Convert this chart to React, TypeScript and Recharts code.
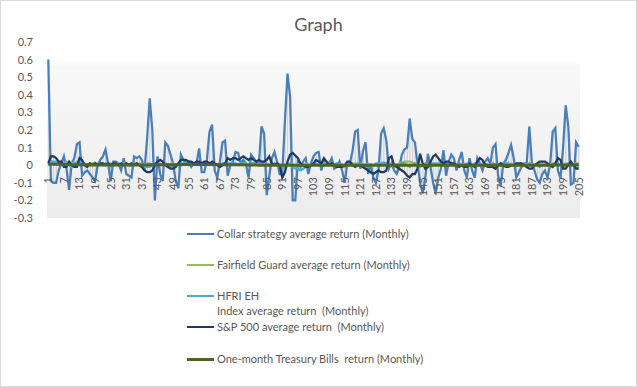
import {
  ComposedChart,
  Line,
  Bar,
  XAxis,
  YAxis,
  CartesianGrid,
  ReferenceLine,
} from "recharts"

// monthly returns (index 0 = month 1)
const collar = [
  0.60, -0.09, -0.10, -0.10, -0.03, 0.01, 0.05, -0.02, -0.14, 0.01,
  0.04, 0.12, 0.13, -0.06, -0.04, -0.03, -0.05, -0.07, -0.09, 0.00,
  0.03, 0.05, 0.09, 0.01, -0.09, 0.02, 0.02, 0.01, -0.03, 0.04,
  -0.05, -0.06, -0.07, 0.05, 0.04, 0.05, 0.03, -0.03, 0.15, 0.38,
  0.20, -0.20, 0.05, -0.05, -0.09, 0.13, 0.11, 0.06, 0.01, -0.09,
  -0.13, 0.06, 0.03, 0.01, 0.02, -0.01, 0.01, 0.01, 0.095, -0.04,
  -0.04, 0.03, 0.19, 0.23, -0.03, -0.07, 0.02, 0.13, 0.14, -0.06,
  0.00, 0.02, 0.075, 0.07, 0.01, 0.03, 0.01, -0.07, 0.06, 0.04,
  0.02, 0.01, 0.22, 0.18, -0.17, -0.06, 0.04, 0.075, 0.02, -0.05,
  -0.05, 0.25, 0.52, 0.39, -0.20, -0.20, 0.03, -0.01, 0.02, 0.04,
  -0.05, 0.01, 0.05, 0.07, 0.075, -0.03, 0.03, 0.02, 0.01, 0.04,
  -0.02, -0.01, 0.02, -0.03, -0.10, 0.01, 0.01, 0.08, 0.19, 0.20,
  -0.02, 0.08, 0.13, -0.05, 0.01, -0.07, -0.10, -0.03, 0.18, 0.21,
  0.14, -0.02, 0.01, -0.03, -0.05, -0.01, 0.06, 0.09, 0.10, 0.265,
  0.15, 0.13, 0.01, -0.10, -0.16, -0.07, 0.065, -0.01, -0.10, -0.16,
  -0.07, -0.02, 0.085, -0.06, 0.02, 0.06, 0.04, -0.03, 0.03, 0.075,
  -0.03, -0.07, 0.04, -0.03, -0.07, 0.04, 0.01, -0.03, 0.02, 0.04,
  0.01, 0.10, 0.12, -0.06, -0.12, 0.01, 0.03, 0.07, 0.115, 0.04,
  -0.07, -0.04, -0.01, 0.01, 0.01, 0.22, 0.01, -0.03, -0.08, -0.10,
  -0.05, -0.03, -0.07, 0.00, 0.19, 0.21, -0.03, -0.075, 0.10, 0.34,
  0.22, -0.11, -0.10, 0.13, 0.105,
]

const fairfield = [
  0.02, 0.02, 0.015, 0.01, 0.02, 0.015, 0.01, 0.02, 0.01, 0.015,
  0.01, 0.02, 0.015, 0.01, 0.01, 0.005, 0.01, 0.01, 0.015, 0.005,
  0.01, 0.01, 0.005, 0.01, 0.01, 0.005, 0.01, 0.01, 0.005, 0.01,
  0.01, 0.005, 0.01, 0.01, 0.005, 0.01, 0.005, 0.005, 0.01, 0.01,
  0.005, 0.005, 0.01, 0.005, 0.005, 0.01, 0.005, 0.005, 0.01, 0.005,
  0.005, 0.01, 0.01, 0.005, 0.005, 0.01, 0.005, 0.005, 0.01, 0.005,
  0.01, 0.005, 0.005, 0.01, 0.005, 0.005, 0.01, 0.005, 0.005, 0.005,
  0.005, 0.01, 0.005, 0.005, 0.005, 0.01, 0.005, 0.005, 0.005, 0.01,
  0.005, 0.005, 0.005, 0.01, 0.005, 0.005, 0.005, 0.01, 0.005, 0.005,
  0.0, 0.005, 0.005, 0.01, 0.005, 0.0, 0.005, 0.005, 0.005, 0.005,
  0.005, 0.005, 0.01, 0.005, 0.005, 0.005, 0.01, 0.005, 0.005, 0.005,
  0.005, 0.005, 0.005, 0.005, 0.0, 0.005, 0.005, 0.005, 0.01, 0.005,
  0.005, 0.005, 0.005, 0.005, 0.005, 0.0, 0.005, 0.005, 0.005, 0.01,
  0.005, 0.005, 0.005, 0.005, 0.005, 0.01, 0.015, 0.02, 0.02, 0.02,
  0.015, 0.01, 0.005, 0.0, 0.005, 0.005, 0.005, 0.005, 0.0, 0.005,
  0.005, 0.005, 0.005, 0.005, 0.005, 0.005, 0.01, 0.005, 0.005, 0.005,
  0.005, 0.0, 0.005, 0.005, 0.005, 0.005, 0.005, 0.005, 0.005, 0.005,
  0.005, 0.005, 0.005, 0.0, 0.005, 0.005, 0.005, 0.005, 0.01, 0.005,
  0.005, 0.005, 0.005, 0.005, 0.005, 0.01, 0.005, 0.005, 0.005, 0.005,
  0.005, 0.005, 0.005, 0.005, 0.01, 0.005, 0.005, 0.005, 0.005, 0.01,
  0.005, 0.005, 0.005, 0.01, 0.01,
]

const hfri = [
  0.00, 0.02, 0.02, 0.02, 0.01, 0.00, 0.01, 0.01, 0.00, -0.01,
  0.01, 0.01, 0.02, 0.01, 0.00, 0.00, 0.01, 0.00, 0.00, 0.01,
  0.01, 0.00, 0.01, 0.00, -0.01, 0.01, 0.00, 0.01, 0.00, 0.00,
  0.01, 0.00, 0.00, 0.01, 0.01, 0.00, 0.00, -0.01, -0.01, -0.01,
  0.00, 0.01, 0.01, 0.00, 0.00, 0.01, 0.00, -0.01, 0.00, 0.00,
  0.01, 0.01, 0.01, 0.01, 0.00, 0.01, 0.01, 0.00, 0.01, 0.00,
  0.01, 0.01, 0.01, 0.00, 0.00, 0.00, 0.00, 0.01, 0.01, 0.01,
  0.01, 0.01, 0.01, 0.00, 0.01, 0.01, 0.01, 0.00, 0.01, 0.01,
  0.01, 0.01, 0.01, 0.01, 0.01, 0.00, 0.00, 0.01, 0.00, -0.01,
  -0.02, -0.01, 0.00, 0.01, -0.01, -0.02, -0.02, -0.03, -0.02, -0.01,
  -0.01, 0.00, 0.01, 0.01, 0.00, 0.01, 0.01, 0.00, 0.01, 0.00,
  0.00, 0.01, 0.00, 0.00, -0.01, 0.00, 0.01, 0.01, 0.00, 0.01,
  0.01, 0.00, 0.00, -0.01, 0.00, 0.00, 0.01, 0.01, 0.01, 0.015,
  0.01, 0.01, 0.00, -0.01, 0.00, 0.00, 0.01, 0.01, 0.00, -0.01,
  0.00, 0.01, 0.00, -0.01, 0.00, 0.01, 0.00, 0.01, 0.01, 0.01,
  0.01, 0.01, 0.015, 0.01, 0.015, 0.01, 0.01, 0.00, 0.01, 0.00,
  0.00, 0.01, 0.00, 0.00, 0.01, 0.01, 0.00, 0.00, 0.01, 0.00,
  0.00, 0.01, 0.00, 0.00, 0.01, 0.01, 0.01, 0.01, 0.00, 0.00,
  0.00, 0.00, 0.01, 0.00, 0.00, 0.01, 0.00, 0.00, 0.00, -0.01,
  0.00, 0.00, 0.00, -0.01, 0.00, 0.01, 0.01, 0.00, -0.01, 0.00,
  0.01, 0.00, 0.00, -0.01, -0.01,
]

const sp500 = [
  0.01, 0.05, 0.05, 0.04, 0.02, 0.02, -0.01, -0.01, 0.02, 0.00,
  -0.01, -0.01, 0.04, 0.03, 0.00, -0.01, 0.01, 0.00, 0.01, 0.00,
  0.01, 0.01, 0.00, 0.01, 0.00, 0.01, 0.01, 0.00, 0.01, 0.00,
  0.01, 0.00, 0.01, 0.00, 0.01, 0.00, -0.01, -0.03, -0.04, -0.04,
  -0.03, 0.00, 0.02, 0.03, 0.02, 0.00, -0.01, -0.02, -0.02, -0.01,
  0.01, 0.03, 0.03, 0.03, 0.02, 0.02, 0.01, 0.02, 0.02, 0.01,
  0.02, 0.02, 0.01, 0.02, 0.01, 0.00, -0.01, 0.00, 0.01, 0.04,
  0.03, 0.04, 0.04, 0.03, 0.04, 0.05, 0.04, 0.03, 0.04, 0.03,
  0.02, 0.03, 0.02, 0.02, 0.03, 0.05, 0.01, 0.00, 0.01, 0.00,
  -0.07, -0.04, 0.02, 0.06, 0.07, 0.055, 0.04, 0.01, 0.00, -0.01,
  -0.01, 0.00, 0.01, 0.03, 0.02, 0.01, 0.04, 0.02, 0.00, 0.01,
  0.00, -0.01, -0.01, -0.01, 0.00, 0.02, 0.02, 0.00, -0.01, 0.00,
  0.00, -0.01, -0.02, -0.03, -0.04, -0.05, -0.04, -0.03, -0.04, -0.04,
  -0.03, 0.04, 0.05, 0.00, -0.01, -0.02, -0.03, -0.04, -0.06, -0.07,
  -0.05, -0.05, -0.02, 0.065, 0.01, -0.02, -0.01, 0.02, 0.05, 0.06,
  0.04, 0.02, 0.01, 0.02, 0.02, 0.01, 0.01, 0.00, -0.01, 0.00,
  -0.01, -0.01, 0.01, 0.00, -0.01, 0.02, 0.04, 0.03, 0.00, -0.01,
  -0.01, -0.01, -0.02, 0.00, 0.01, 0.00, -0.01, -0.01, 0.00, 0.00,
  0.01, 0.01, 0.01, 0.00, -0.01, -0.02, -0.02, 0.00, 0.01, 0.02,
  0.02, 0.02, 0.01, 0.00, -0.01, 0.01, 0.04, 0.03, -0.02, -0.02,
  0.00, 0.02, 0.00, -0.02, -0.02,
]

const tbills = [
  0.005, 0.005, 0.005, 0.005, 0.005, 0.005, 0.004, 0.004, 0.004, 0.003,
  0.003, 0.003, 0.002, 0.002, 0.002, 0.002, 0.001, 0.001, 0.001, 0.001,
  0.001, 0.001, 0.001, 0.001, 0.001, 0.001, 0.001, 0.001, 0.001, 0.001,
  0.001, 0.001, 0.001, 0.001, 0.001, 0.001, 0.001, 0.001, 0.001, 0.002,
  0.002, 0.002, 0.002, 0.002, 0.002, 0.003, 0.003, 0.003, 0.003, 0.003,
  0.003, 0.003, 0.004, 0.004, 0.004, 0.004, 0.004, 0.004, 0.004, 0.004,
  0.004, 0.004, 0.004, 0.004, 0.004, 0.004, 0.004, 0.003, 0.003, 0.003,
  0.003, 0.003, 0.002, 0.002, 0.002, 0.002, 0.001, 0.001, 0.001, 0.001,
  0.001, 0, 0, 0, 0, 0, 0, 0, 0, 0,
  0, 0, 0, 0, 0, 0, 0, 0, 0, 0,
  0, 0, 0, 0, 0, 0, 0, 0, 0, 0,
  0, 0, 0, 0, 0, 0, 0, 0, 0, 0,
  0, 0, 0, 0, 0, 0, 0, 0, 0, 0,
  0, 0, 0, 0, 0, 0, 0, 0, 0, 0,
  0, 0, 0, 0, 0, 0, 0, 0, 0, 0,
  0, 0, 0, 0, 0, 0, 0, 0, 0, 0,
  0, 0, 0, 0, 0, 0, 0, 0, 0, 0,
  0, 0, 0, 0, 0, 0, 0, 0, 0, 0,
  0, 0, 0, 0, 0, 0, 0, 0, 0, 0,
  0, 0, 0, 0, 0.001, 0.001, 0.001, 0.001, 0.001, 0.001,
  0.001, 0.001, 0.001, 0.002, 0.002,
]

const yTicks = [-0.3, -0.2, -0.1, 0, 0.1, 0.2, 0.3, 0.4, 0.5, 0.6, 0.7]

const SERIES = [
  { key: "collar", name: "Collar strategy average return (Monthly)", color: "#4A7EBB", width: 2.25 },
  { key: "fairfield", name: "Fairfield Guard average return (Monthly)", color: "#9BBB59", width: 2.25 },
  { key: "hfri", name: "HFRI EH\nIndex average return  (Monthly)", color: "#4BACC6", width: 2.25 },
  { key: "sp500", name: "S&P 500 average return  (Monthly)", color: "#203864", width: 2.25 },
  { key: "tbills", name: "One-month Treasury Bills  return (Monthly)", color: "#4F6228", width: 3 },
]

const W = 637
const H = 387
const PLOT_TOP = 42
const PLOT_H = 176
const FONT = "Lato, 'Open Sans', sans-serif"
const TEXT = "#595959"

// rows for the chart; lo/hi feed the grey high-low lines
const rows = collar.map((c, i) => {
  const vals = [c, fairfield[i], hfri[i], sp500[i], tbills[i]]
  return {
    month: String(i + 1),
    collar: c,
    fairfield: fairfield[i],
    hfri: hfri[i],
    sp500: sp500[i],
    tbills: tbills[i],
    lo: Math.min(...vals),
    hi: Math.max(...vals),
  }
})

// Excel puts the category labels at the zero line, not at the bottom
const ZERO_SHIFT = PLOT_H * 0.3 - 12

function MonthTick({ x, y, payload }: any) {
  const ty = y - ZERO_SHIFT
  return (
    <text
      x={x}
      y={ty}
      transform={`rotate(-90 ${x} ${ty})`}
      textAnchor="end"
      dy="0.35em"
      fill={TEXT}
      fontSize={11}
      fontFamily={FONT}
    >
      {payload.value}
    </text>
  )
}

function LegendBox() {
  return (
    <div style={{ position: "absolute", left: 187, top: 225.5, fontFamily: FONT, fontSize: 11, color: TEXT }}>
      {SERIES.map(s => (
        <div key={s.key} style={{ display: "flex", alignItems: "flex-start", height: 31.3 }}>
          <div style={{ width: 27, height: s.width > 2.5 ? 3 : 2, marginTop: 7, background: s.color }} />
          <div style={{ marginLeft: 3, lineHeight: "15px", whiteSpace: "pre" }}>{s.name}</div>
        </div>
      ))}
    </div>
  )
}

export default function App() {
  return (
    <div style={{ position: "absolute", left: 0, top: 0, width: W, height: H, background: "#fff" }}>
      <div
        style={{
          position: "absolute",
          left: 0,
          top: 13,
          width: W,
          textAlign: "center",
          fontFamily: FONT,
          fontSize: 18,
          color: TEXT,
        }}
      >
        Graph
      </div>

      <div style={{ position: "absolute", left: 0, top: 0 }}>
        <ComposedChart
          width={W}
          height={H}
          data={rows}
          margin={{ top: PLOT_TOP, right: 57, bottom: H - PLOT_TOP - PLOT_H - 1, left: 0 }}
          barCategoryGap={0}
        >
          <defs>
            <linearGradient id="plotBg" x1="0" y1="0" x2="0" y2="1">
              <stop offset="0%" stopColor="#ffffff" />
              <stop offset="10%" stopColor="#ffffff" />
              <stop offset="14%" stopColor="#f8f8f8" />
              <stop offset="100%" stopColor="#ececec" />
            </linearGradient>
          </defs>

          <CartesianGrid horizontal={false} vertical={false} fill="url(#plotBg)" />

          <XAxis
            dataKey="month"
            interval={5}
            height={1}
            axisLine={false}
            tickLine={false}
            tickSize={0}
            tickMargin={0}
            tick={<MonthTick />}
          />
          <YAxis
            domain={[-0.3, 0.7]}
            ticks={yTicks}
            width={47}
            axisLine={false}
            tickLine={false}
            tickSize={6}
            tickMargin={8}
            tick={{ fill: TEXT, fontSize: 11, fontFamily: FONT }}
          />

          <ReferenceLine y={0} stroke="#d9d9d9" />

          {/* high-low lines */}
          <Bar dataKey={(d: any) => [d.lo, d.hi]} barSize={1} fill="#cfcfcf" isAnimationActive={false} />

          {SERIES.map(s => (
            <Line
              key={s.key}
              type="linear"
              dataKey={s.key}
              name={s.name}
              stroke={s.color}
              strokeWidth={s.width}
              dot={false}
              activeDot={false}
              isAnimationActive={false}
            />
          ))}
        </ComposedChart>
      </div>

      <LegendBox />

      <div
        style={{
          position: "absolute",
          left: 0,
          top: 0,
          width: W,
          height: H,
          boxSizing: "border-box",
          border: "1px solid #d9d9d9",
          pointerEvents: "none",
        }}
      />
    </div>
  )
}
